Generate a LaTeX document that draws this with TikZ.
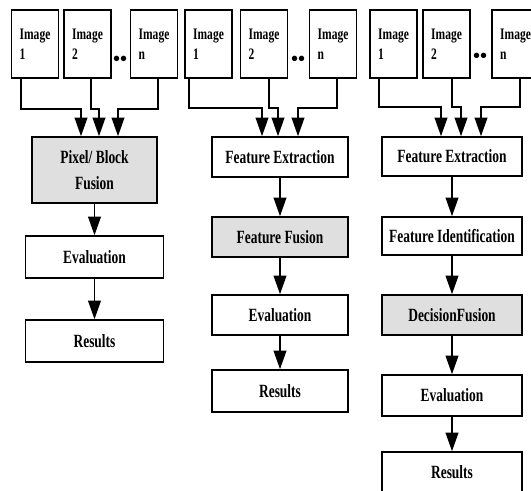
\documentclass[tikz,border=0pt]{standalone}
\usepackage{fontspec}
\setmainfont{Liberation Serif}
\newfontfamily\narrowserif[FakeStretch=0.72]{Liberation Serif}
\usetikzlibrary{arrows.meta}

\begin{document}
\begin{tikzpicture}[
    x=0.75pt, y=-0.75pt,
    imgbox/.style={draw, line width=1.1pt, minimum width=35pt, minimum height=51pt,
                   text width=23pt, align=left, inner sep=0pt,
                   font=\narrowserif\bfseries\fontsize{12}{15}\selectfont},
    stage/.style={draw, line width=1.1pt, align=center, inner sep=0pt,
                  font=\narrowserif\bfseries\fontsize{14}{20}\selectfont},
    fusion/.style={stage, fill=gray!25},
    dots/.style={font=\bfseries\fontsize{15}{15}\selectfont, inner sep=0pt},
    flow/.style={draw, line width=1.4pt, -{Triangle[width=9.5pt,length=14pt]}}
]
\useasboundingbox (0,0) rectangle (531,491);
\clip (0,0) rectangle (531,491);

% Pixel level
\node[imgbox] (img11) at (35,44)   {Image\\1};
\node[imgbox] (img12) at (87.5,44) {Image\\2};
\node[dots]   (dots1) at (120,61)  {••};
\node[imgbox] (img1n) at (154,44)  {Image\\n};
\node[fusion, minimum width=94pt, minimum height=49.5pt] (pixfus) at (94.5,170) {Pixel/ Block\\Fusion};
\node[stage, minimum width=103.5pt, minimum height=31.5pt] (eval1) at (94.5,257) {Evaluation};
\node[stage, minimum width=103.5pt, minimum height=31.5pt] (res1)  at (94.5,341) {Results};

\draw[flow] ([shift={(-14,0)}]img11.south) -- ++(0,30) -| ([shift={(-13.5,0)}]pixfus.north);
\draw[flow] ([shift={(3.5,0)}]img12.south) -- ++(0,30) -| ([shift={(4.5,0)}]pixfus.north);
\draw[flow] ([shift={(4,0)}]img1n.south) -- ++(0,30) -| ([shift={(23.5,0)}]pixfus.north);
\draw[flow] (pixfus) -- (eval1);
\draw[flow] (eval1) -- (res1);

% Feature level
\node[imgbox] (img21) at (208.5,44) {Image\\1};
\node[imgbox] (img22) at (264,44)   {Image\\2};
\node[dots]   (dots2) at (298,61)   {••};
\node[imgbox] (img2n) at (333,44)   {Image\\n};
\node[stage,  minimum width=102pt, minimum height=30pt]   (featex2) at (280,157) {Feature Extraction};
\node[fusion, minimum width=102pt, minimum height=30pt]   (featfus) at (280,237) {Feature Fusion};
\node[stage,  minimum width=102pt, minimum height=30pt]   (eval2)   at (280,315) {Evaluation};
\node[stage,  minimum width=102pt, minimum height=31.5pt] (res2)    at (280,391) {Results};

\draw[flow] ([shift={(-19.5,0)}]img21.south) -- ++(0,29) -| ([shift={(-18,0)}]featex2.north);
\draw[flow] ([shift={(5,0)}]img22.south) -- ++(0,29) -| ([shift={(-2,0)}]featex2.north);
\draw[flow] ([shift={(4,0)}]img2n.south) -- ++(0,29) -| ([shift={(18,0)}]featex2.north);
\draw[flow] (featex2) -- (featfus);
\draw[flow] (featfus) -- (eval2);
\draw[flow] (eval2) -- (res2);

% Decision level
\node[imgbox] (img31) at (393.5,44) {Image\\1};
\node[imgbox] (img32) at (446.5,44) {Image\\2};
\node[dots]   (dots3) at (480,58)   {••};
\node[imgbox] (img3n) at (515.5,44) {Image\\n};
\node[stage,  minimum width=105pt, minimum height=29.25pt] (featex3) at (452,156.5) {Feature Extraction};
\node[stage,  minimum width=105pt, minimum height=28.5pt]  (featid)  at (452,236)   {Feature Identification};
\node[fusion, minimum width=105pt, minimum height=30pt]    (decfus)  at (452,315)   {DecisionFusion};
\node[stage,  minimum width=105pt, minimum height=30.75pt] (eval3)   at (452,395.5) {Evaluation};
\node[stage,  minimum width=105pt, minimum height=30pt]    (res3)    at (452,472)   {Results};

\draw[flow] ([shift={(-14.5,0)}]img31.south) -- ++(0,28) -| ([shift={(-11,0)}]featex3.north);
\draw[flow] ([shift={(5.5,0)}]img32.south) -- ++(0,28) -| ([shift={(9,0)}]featex3.north);
\draw[flow] ([shift={(4.5,0)}]img3n.south) -- ++(0,28) -| ([shift={(29,0)}]featex3.north);
\draw[flow] (featex3) -- (featid);
\draw[flow] (featid) -- (decfus);
\draw[flow] (decfus) -- (eval3);
\draw[flow] (eval3) -- (res3);

\end{tikzpicture}
\end{document}
